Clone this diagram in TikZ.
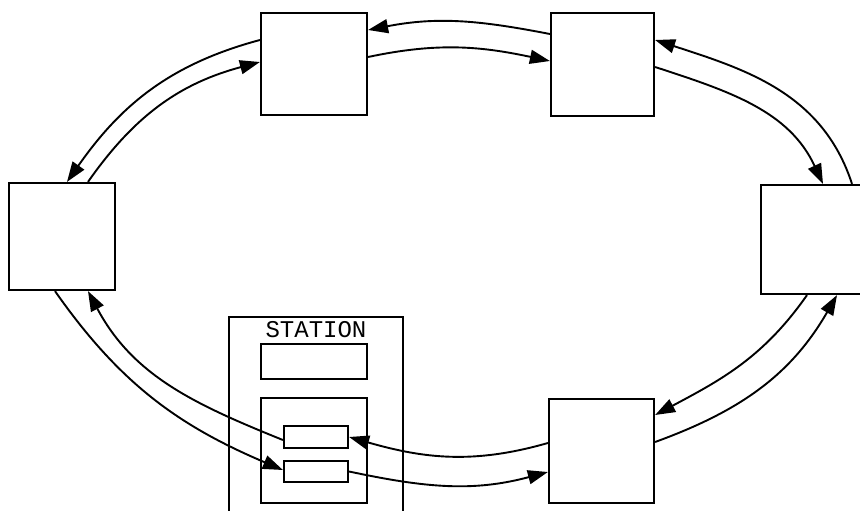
\documentclass[tikz,border=0pt]{standalone}
\usepackage{fontspec}
\setmonofont{Liberation Mono}
\usetikzlibrary{arrows.meta}
\begin{document}
\begin{tikzpicture}[x=1pt,y=1pt,
  box/.style={draw, line width=2.2pt, inner sep=0pt, fill=white},
  link/.style={line width=1.9pt, -{Triangle[length=20pt,width=14pt]}},
]
\useasboundingbox (0,0) rectangle (860,-511);
\clip (0,0) rectangle (860,-511);
% ring stations
\node[box, minimum width=106pt, minimum height=102pt] (A) at (314,-64) {};
\node[box, minimum width=103pt, minimum height=103pt] (B) at (602.5,-64.5) {};
\node[box, minimum width=106pt, minimum height=107pt] (L) at (62,-236.5) {};
\node[box, minimum width=109pt, minimum height=109pt] (R) at (815.5,-239.5) {};
\node[box, minimum width=105pt, minimum height=104pt] (BR) at (601.5,-451) {};
% detailed station
\node[box, minimum width=174pt, minimum height=208pt] (S) at (316,-421) {};
\node[font=\ttfamily\fontsize{24}{24}\selectfont, inner sep=0pt] (lbl) at (316,-330) {STATION};
\node[box, minimum width=106pt, minimum height=35pt] (S1) at (314,-361.5) {};
\node[box, minimum width=106pt, minimum height=105pt] (S2) at (314,-450.5) {};
\node[box, minimum width=64pt, minimum height=22pt] (a) at (316,-437) {};
\node[box, minimum width=64pt, minimum height=21pt] (b) at (316,-471.5) {};
% connectors
\draw[link] ([yshift=30.5pt]B.west) to[out=169,in=11] ([yshift=34pt]A.east);
\draw[link] ([yshift=7pt]A.east) to[out=12,in=168] ([yshift=3.5pt]B.west);
\draw[link] ([xshift=36.5pt]R.north) to[out=108,in=-18] ([yshift=24.5pt]B.east);
\draw[link] ([yshift=-2.5pt]B.east) to[out=-18,in=115] ([xshift=7.5pt]R.north);
\draw[link] ([xshift=-8.5pt]R.south) to[out=-125,in=28] ([yshift=36pt]BR.east);
\draw[link] ([yshift=9pt]BR.east) to[out=20,in=-120] ([xshift=21.5pt]R.south);
\draw[link] ([yshift=8pt]BR.west) to[out=-164,in=-16] (a.east);
\draw[link] (b.east) to[out=-12,in=195] ([yshift=-21pt]BR.west);
\draw[link] ([yshift=-3pt]a.west) to[out=158,in=-62] ([xshift=26pt]L.south);
\draw[link] ([xshift=-7pt]L.south) to[out=-55,in=157] ([yshift=1.5pt]b.west);
\draw[link] ([yshift=24pt]A.west) to[out=195,in=55] ([xshift=5pt]L.north);
\draw[link] ([xshift=26pt]L.north) to[out=55,in=195] ([yshift=2pt]A.west);
\end{tikzpicture}
\end{document}
